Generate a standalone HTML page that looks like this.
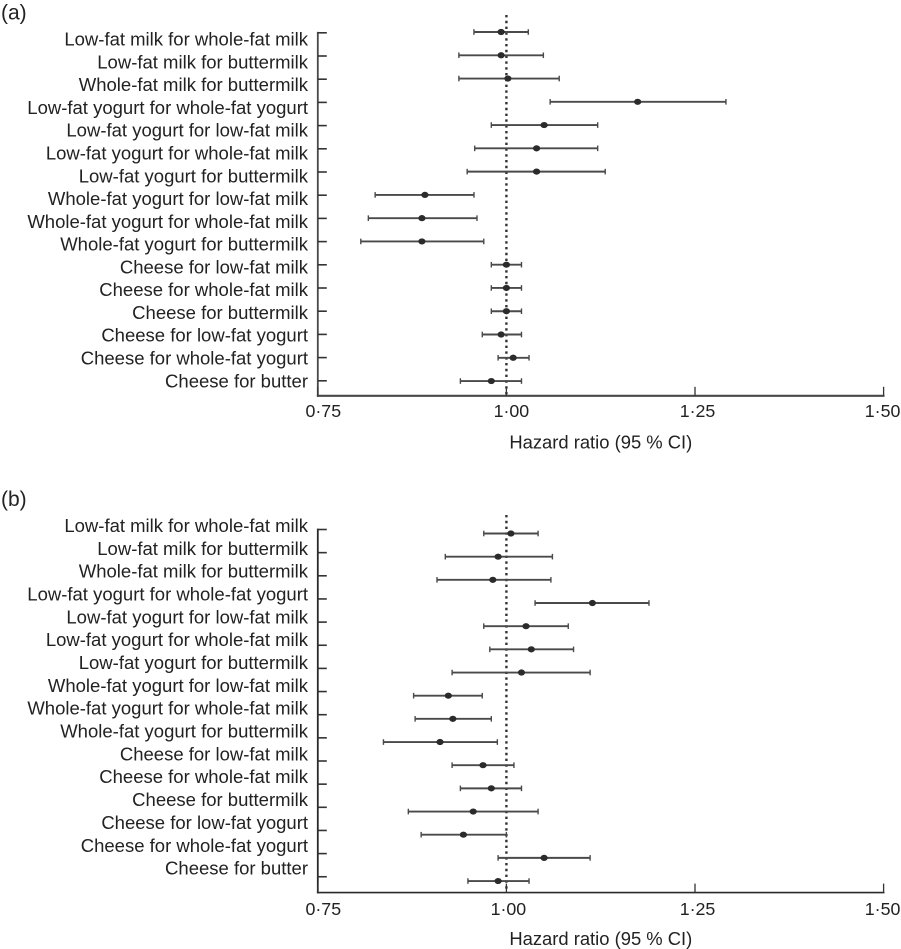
<!DOCTYPE html>
<html lang="en">
<head>
<meta charset="utf-8">
<title>Hazard ratio forest plots</title>
<style>
html,body{margin:0;padding:0;background:#fff;}
#chart{display:block;width:901px;height:949px;font-family:"Liberation Sans",sans-serif;fill:#222;}
</style>
</head>
<body>
<svg id="chart" width="901" height="949" viewBox="0 0 901 949" xmlns="http://www.w3.org/2000/svg"></svg>
<script>
const categories = [
  "Low-fat milk for whole-fat milk",
  "Low-fat milk for buttermilk",
  "Whole-fat milk for buttermilk",
  "Low-fat yogurt for whole-fat yogurt",
  "Low-fat yogurt for low-fat milk",
  "Low-fat yogurt for whole-fat milk",
  "Low-fat yogurt for buttermilk",
  "Whole-fat yogurt for low-fat milk",
  "Whole-fat yogurt for whole-fat milk",
  "Whole-fat yogurt for buttermilk",
  "Cheese for low-fat milk",
  "Cheese for whole-fat milk",
  "Cheese for buttermilk",
  "Cheese for low-fat yogurt",
  "Cheese for whole-fat yogurt",
  "Cheese for butter"
];
const xTicks = [0.75, 1.00, 1.25, 1.50];
const xTickLabels = ["0·75", "1·00", "1·25", "1·50"];
const referenceValue = 1.00;
const xAxisTitle = "Hazard ratio (95 % CI)";

const hrA = [0.993,0.993,1.002,1.174,1.050,1.040,1.040,0.892,0.888,0.888,1.000,1.000,1.000,0.993,1.009,0.980];
const loA = [0.957,0.937,0.937,1.058,0.980,0.958,0.948,0.826,0.817,0.807,0.980,0.980,0.980,0.968,0.989,0.939];
const hiA = [1.029,1.049,1.070,1.291,1.121,1.121,1.131,0.957,0.961,0.970,1.020,1.020,1.020,1.020,1.030,1.020];

const hrB = [1.006,0.989,0.982,1.114,1.026,1.033,1.020,0.923,0.929,0.912,0.969,0.980,0.956,0.943,1.050,0.989];
const loB = [0.970,0.919,0.908,1.038,0.970,0.978,0.928,0.877,0.879,0.837,0.928,0.939,0.870,0.887,0.989,0.949];
const hiB = [1.042,1.061,1.059,1.189,1.082,1.089,1.111,0.968,0.980,0.988,1.010,1.020,1.042,1.000,1.111,1.030];

const NS = "http://www.w3.org/2000/svg";
const svg = document.getElementById("chart");

function xScale(v) {
  return 317.8 + (v - 0.75) * 754.4;
}

function make(parent, tag, attrs, text) {
  const el = document.createElementNS(NS, tag);
  for (const k in attrs) el.setAttribute(k, attrs[k]);
  if (text !== undefined) el.textContent = text;
  parent.appendChild(el);
  return el;
}

function drawPanel(p) {
  const tickY = i => p.tickTop + i * p.tickStep;
  const pointY = i => p.pointTop + i * p.pointStep;
  const labelY = i => p.labelTop + i * p.labelStep;

  const g = make(svg, "g", {});
  
  

  const letter = make(g, "text", {x: 1, y: p.letterY, "font-size": 21}, p.letter);
  
  

  const refLine = make(g, "line", {
    x1: xScale(referenceValue), x2: xScale(referenceValue),
    y1: p.refTop, y2: p.baseline,
    stroke: "#333", "stroke-width": 2.4, "stroke-dasharray": "2.4 3.4"
  });
  
  

  const yAxis = make(g, "line", {
    x1: xScale(0.75), x2: xScale(0.75),
    y1: tickY(0) - 0.9, y2: p.baseline + p.axisWidth / 2,
    stroke: p.axisColor, "stroke-width": 1.8
  });
  
  

  const xAxis = make(g, "line", {
    x1: xScale(0.75) - 0.9, x2: xScale(1.5) + 0.9,
    y1: p.baseline, y2: p.baseline,
    stroke: p.axisColor, "stroke-width": p.axisWidth
  });
  
  

  categories.forEach((c, i) => {
    const tick = make(g, "line", {
      x1: xScale(0.75), x2: xScale(0.75) + 9,
      y1: tickY(i), y2: tickY(i),
      stroke: "#333", "stroke-width": 1.6
    });
    
    

    const label = make(g, "text", {
      x: 308, y: labelY(i), "text-anchor": "end", "font-size": p.fontSize
    }, c);
    
    

    const y = pointY(i);
    const ci = make(g, "line", {
      x1: xScale(p.lo[i]), x2: xScale(p.hi[i]), y1: y, y2: y,
      stroke: "#4a4a4a", "stroke-width": 1.9
    });
    
    

    const capLo = make(g, "line", {
      x1: xScale(p.lo[i]), x2: xScale(p.lo[i]), y1: y - 2.8, y2: y + 2.8,
      stroke: "#4a4a4a", "stroke-width": 1.4
    });
    
    

    const capHi = make(g, "line", {
      x1: xScale(p.hi[i]), x2: xScale(p.hi[i]), y1: y - 2.8, y2: y + 2.8,
      stroke: "#4a4a4a", "stroke-width": 1.4
    });
    
    

    const dot = make(g, "ellipse", {
      cx: xScale(p.hr[i]), cy: y, rx: 3.6, ry: 3.1, fill: "#2b2b2b"
    });
    
    
  });

  xTicks.forEach((t, i) => {
    const tick = make(g, "line", {
      x1: xScale(t), x2: xScale(t),
      y1: p.baseline - 9, y2: p.baseline,
      stroke: "#333", "stroke-width": 1.3
    });
    
    

    const label = make(g, "text", {
      x: xScale(t) + p.tickLabelShift[i], y: p.tickLabelY, "text-anchor": "middle", "font-size": 17.8
    }, xTickLabels[i]);
    
    
  });

  const title = make(g, "text", {
    x: 600.8, y: p.titleY, "text-anchor": "middle", "font-size": 18.4
  }, xAxisTitle);
  
  
}

drawPanel({
  name: "panel-a", letter: "(a)", letterY: 19.5,
  hr: hrA, lo: loA, hi: hiA,
  tickTop: 32.8, tickStep: 23.2,
  pointTop: 32, pointStep: 23.27,
  labelTop: 45.6, labelStep: 22.78,
  fontSize: 18.5, refTop: 15, baseline: 395.8,
  axisWidth: 2.1, axisColor: "#484848",
  tickLabelShift: [5.5, 5, 2.5, -1],
  tickLabelY: 417.2, titleY: 448.6
});

drawPanel({
  name: "panel-b", letter: "(b)", letterY: 506,
  hr: hrB, lo: loB, hi: hiB,
  tickTop: 529.5, tickStep: 23.15,
  pointTop: 533.5, pointStep: 23.17,
  labelTop: 532, labelStep: 22.84,
  fontSize: 18.5, refTop: 515, baseline: 892.6,
  axisWidth: 1.6, axisColor: "#2a2a2a",
  tickLabelShift: [5.5, 2, 2.5, -1],
  tickLabelY: 915, titleY: 945
});
</script>
</body>
</html>
